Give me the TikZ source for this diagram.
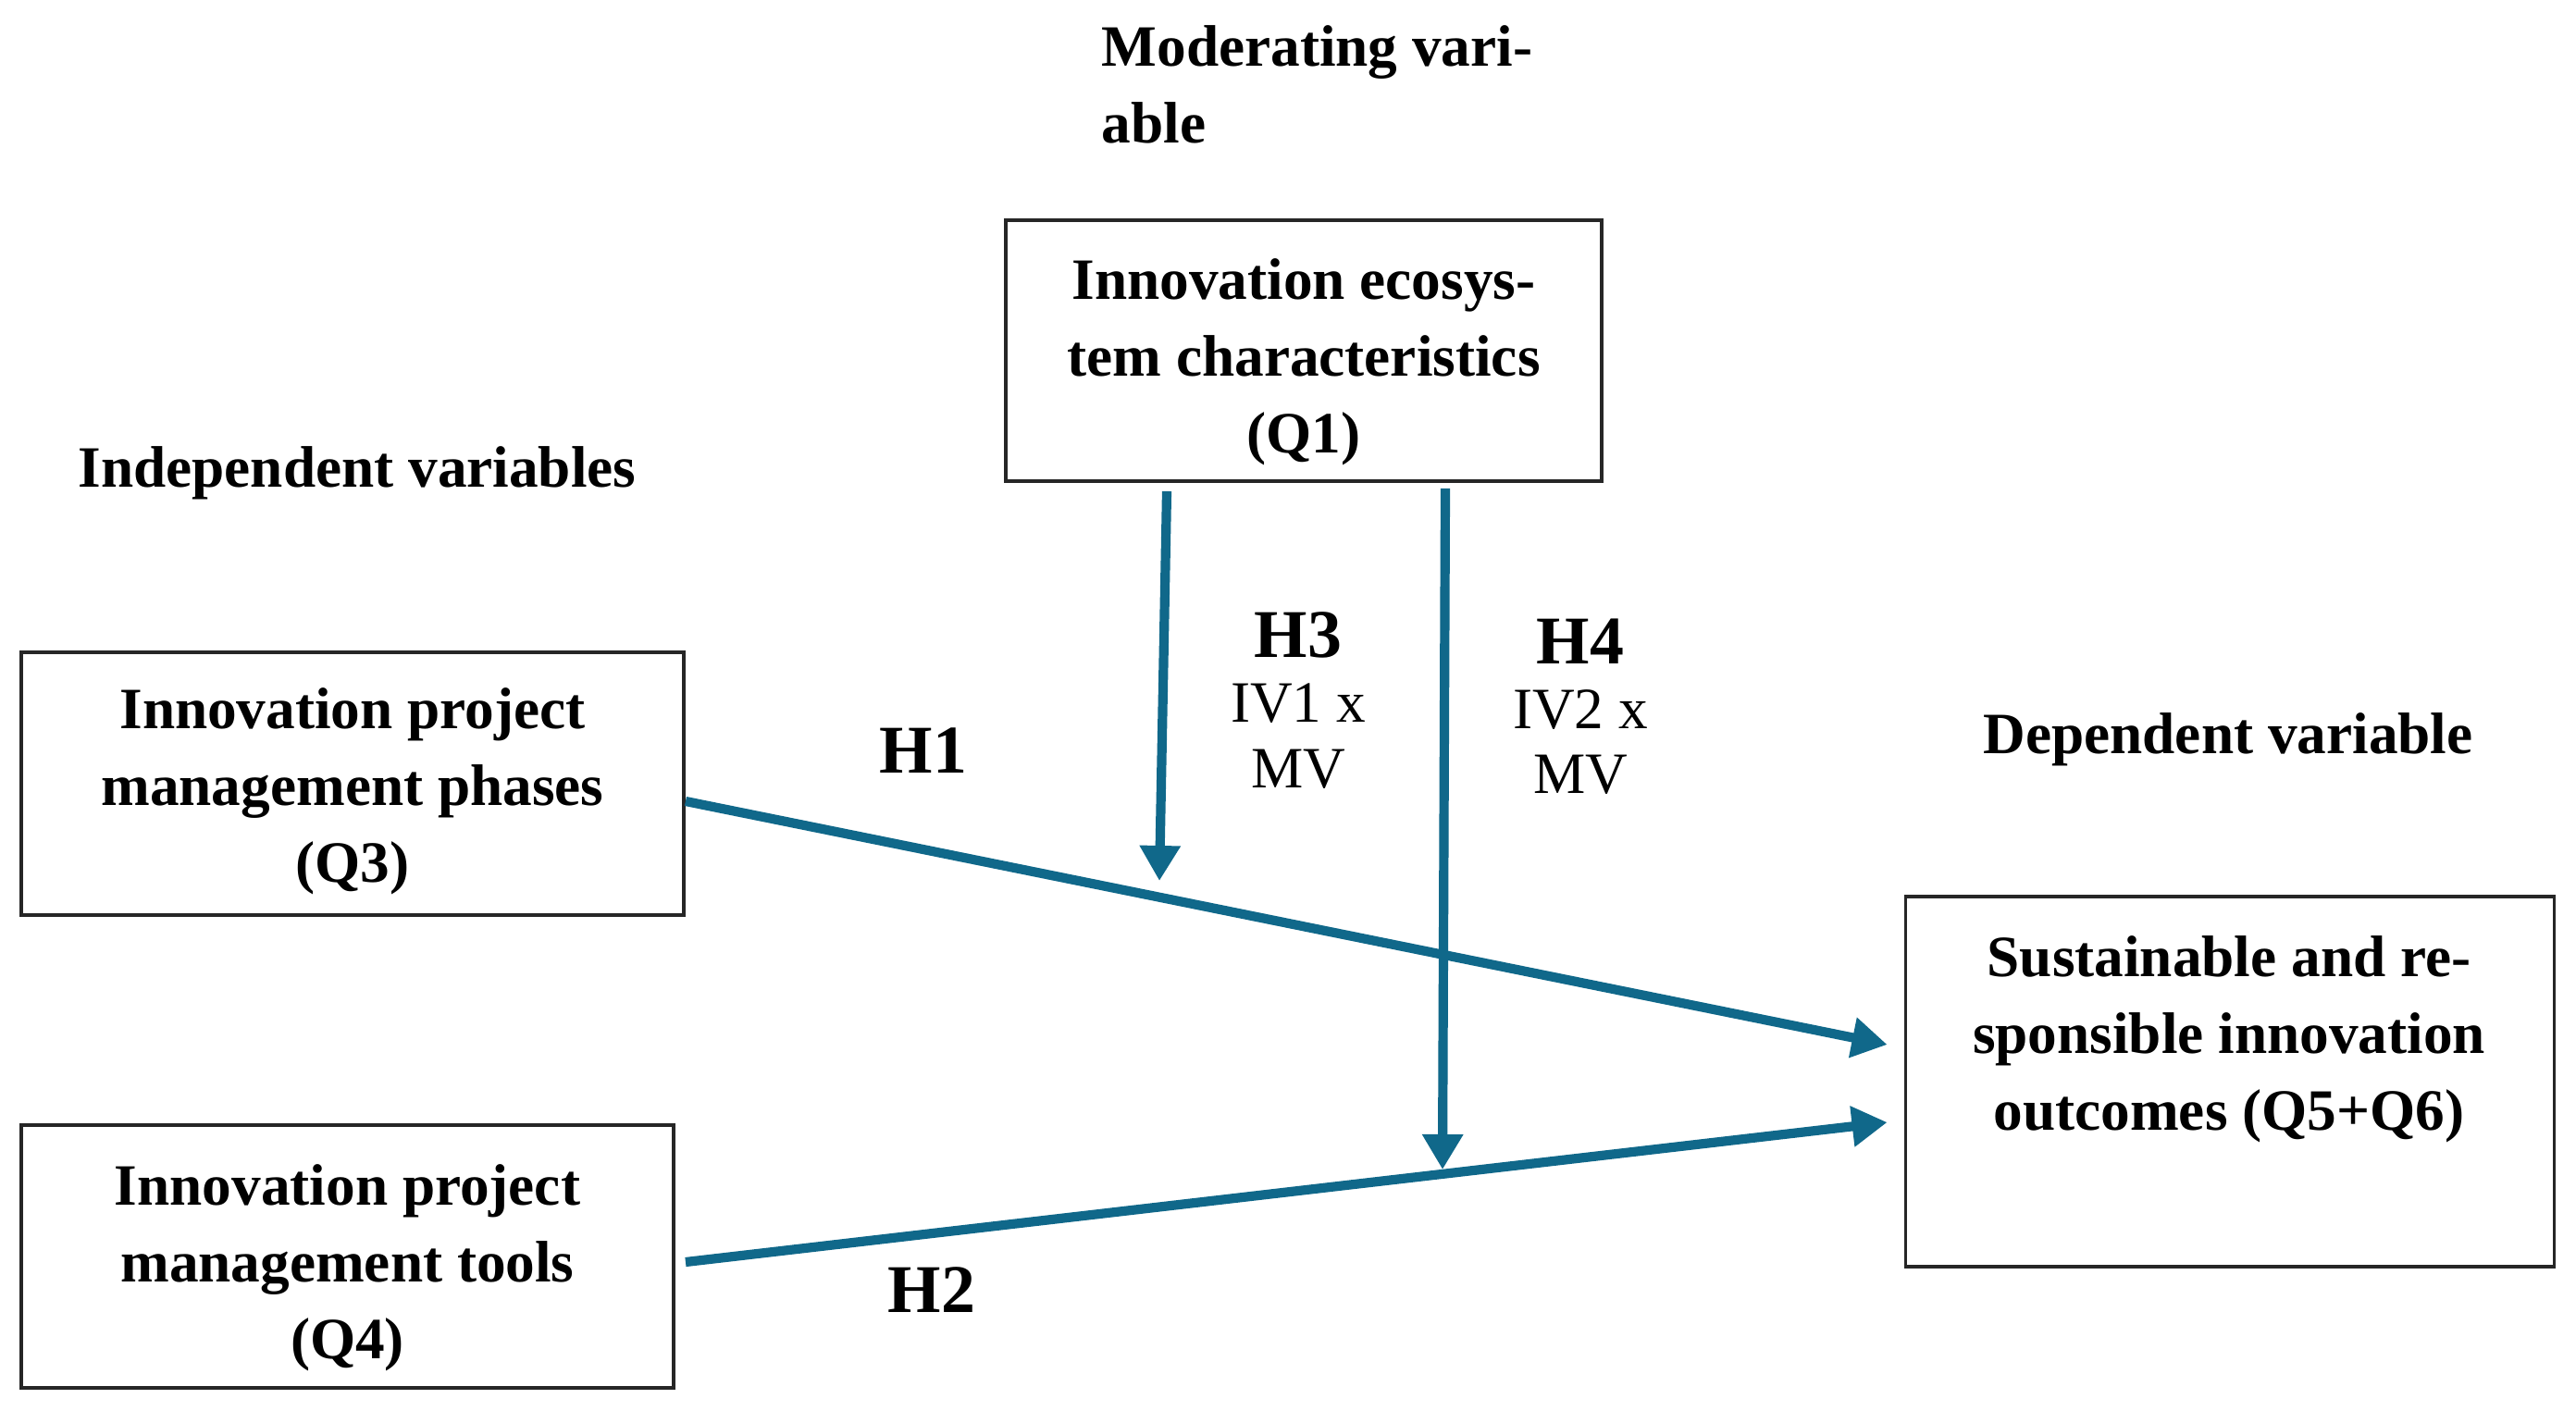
\documentclass[tikz,border=0pt]{standalone}
\usepackage{fontspec}
\setmainfont{Liberation Serif}
\usetikzlibrary{arrows.meta,calc}
\definecolor{arr}{RGB}{16,104,138}
\begin{document}
\begin{tikzpicture}[x=1cm,y=1cm,
  box/.style={draw=black!85,line width=1.1pt,inner sep=0pt},
  txt/.style={inner sep=0pt,align=center,font=\fontsize{18}{23.6}\selectfont\bfseries},
  lbl/.style={inner sep=0pt,font=\fontsize{18}{23.6}\selectfont\bfseries},
  hlab/.style={inner sep=0pt,font=\fontsize{21}{24}\selectfont\bfseries},
  hyp/.style={inner sep=0pt,align=center,font=\fontsize{18}{20}\selectfont},
  link/.style={draw=arr,line width=2.9pt,-{Triangle[length=0.38cm,width=0.42cm]}}]
\useasboundingbox (0,0) rectangle (27.84,-15.25);
\fill[white] (0,0) rectangle (27.84,-15.25);

% boxes
\node[box,minimum width=6.44cm,minimum height=2.82cm] (q1) at (14.09,-3.79) {};
\node[txt] (q1t) at (14.09,-3.915) {Innovation ecosys-\\tem characteristics\\(Q1)};
\node[box,minimum width=7.16cm,minimum height=2.84cm] (q3) at (3.81,-8.47) {};
\node[txt] (q3t) at (3.81,-8.55) {Innovation project\\management phases\\(Q3)};
\node[box,minimum width=7.05cm,minimum height=2.84cm] (q4) at (3.755,-13.58) {};
\node[txt] (q4t) at (3.755,-13.70) {Innovation project\\management tools\\(Q4)};
\node[box,minimum width=7.01cm,minimum height=4.0cm] (res) at (24.10,-11.69) {};
\node[txt] (restext) at (24.09,-11.23)
  {Sustainable and re-\\sponsible innovation\\outcomes (Q5+Q6)};

% headings
\node[lbl,align=left,anchor=north west] (mod) at (11.90,-0.27) {Moderating vari-\\able};
\node[lbl] (indep) at (3.86,-5.11) {Independent variables};
\node[lbl] (dep) at (24.08,-7.99) {Dependent variable};

% hypothesis labels
\node[hlab] (h1) at (9.98,-8.11) {H1};
\node[hlab] (h2) at (10.07,-13.94) {H2};
\node[hyp,anchor=north] (h3) at (14.03,-6.61) {{\fontsize{21}{24}\selectfont\bfseries H3}\\IV1 x\\MV};
\node[hyp,anchor=north] (h4) at (17.08,-6.68) {{\fontsize{21}{24}\selectfont\bfseries H4}\\IV2 x\\MV};

% free ends of moderating arrows
\coordinate (m1) at (12.53,-9.52);
\coordinate (m2) at (15.59,-12.64);

% connectors
\draw[link] ([yshift=-0.19cm]q3.east) -- ([xshift=-0.18cm,yshift=0.40cm]res.west);
\draw[link] ([xshift=0.11cm,yshift=-0.06cm]q4.east) -- ([xshift=-0.18cm,yshift=-0.44cm]res.west);
\draw[link] ([xshift=-1.48cm,yshift=-0.09cm]q1.south) -- (m1);
\draw[link] ([xshift=1.53cm,yshift=-0.06cm]q1.south) -- (m2);
\end{tikzpicture}
\end{document}
